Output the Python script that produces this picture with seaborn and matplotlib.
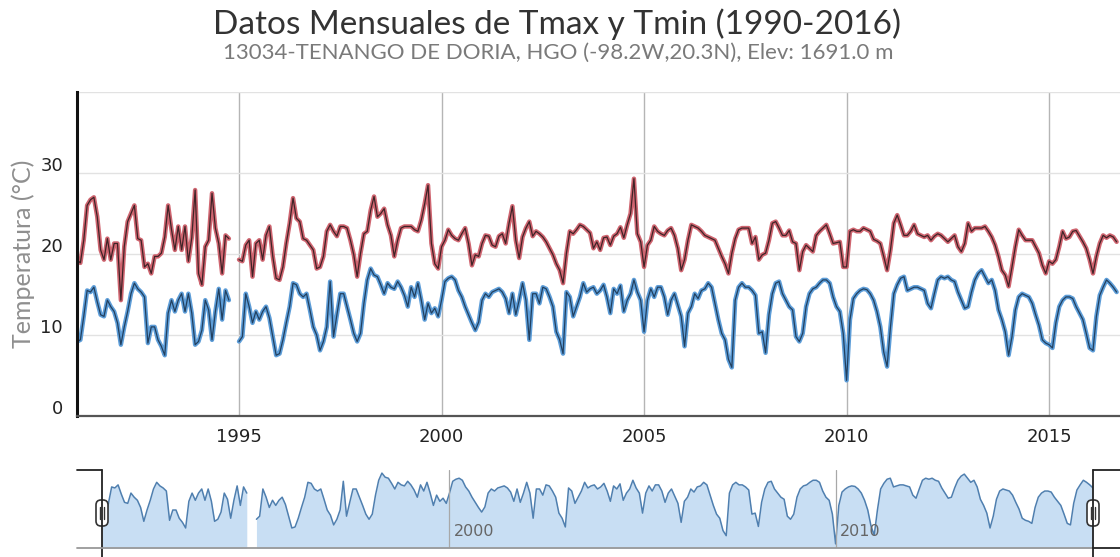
import numpy as np
import pandas as pd
import matplotlib
matplotlib.use("Agg")
import matplotlib.pyplot as plt
import matplotlib.transforms as mtransforms
from matplotlib.patches import FancyBboxPatch
from matplotlib.lines import Line2D
import seaborn as sns

# ---------------- data ----------------
title = "Datos Mensuales de Tmax y Tmin (1990-2016)"
subtitle = "13034-TENANGO DE DORIA, HGO (-98.2W,20.3N), Elev: 1691.0 m"
y_label = "Temperatura (°C)"
start_year = 1991
x_ticks = [1995, 2000, 2005, 2010, 2015]
y_ticks = [0, 10, 20, 30, 40]
y_tick_labels = ["0", "10", "20", "30", ""]
nav_ticks = [2000, 2010]
nan = float("nan")

# monthly Tmax, Jan 1991 .. Sep 2016 (one row per year)
tmax = [
    19.3, 18.9, 21.7, 26.0, 26.7, 27.0, 24.6, 20.5, 19.3, 21.9, 19.3, 21.3,
    21.3, 14.3, 20.9, 24.0, 25.0, 26.0, 21.9, 21.7, 18.4, 18.8, 17.6, 19.7,
    19.7, 20.1, 22.1, 26.0, 23.0, 20.5, 23.4, 20.5, 23.4, 19.1, 22.0, 27.9,
    17.6, 16.2, 20.9, 21.7, 27.5, 23.2, 21.3, 17.6, 22.3, 21.9, nan, nan,
    19.3, 19.1, 21.1, 21.7, 17.2, 21.3, 21.7, 19.3, 22.3, 23.4, 19.7, 17.0,
    16.8, 18.4, 21.3, 23.8, 26.9, 24.4, 24.0, 21.9, 21.7, 21.1, 20.5, 18.2,
    18.4, 19.7, 22.8, 23.6, 22.8, 22.2, 23.4, 23.4, 23.2, 21.7, 19.9, 17.2,
    20.1, 22.5, 22.8, 25.4, 27.1, 24.6, 25.0, 25.6, 23.6, 22.3, 19.7, 21.7,
    23.2, 23.4, 23.4, 23.4, 23.0, 22.8, 24.2, 26.2, 28.5, 21.3, 18.8, 18.2,
    20.9, 21.7, 23.0, 22.3, 21.9, 21.7, 22.5, 23.2, 21.3, 18.6, 19.9, 19.7,
    21.3, 22.3, 22.2, 21.1, 20.9, 22.2, 22.5, 21.3, 23.8, 25.9, 21.7, 19.5,
    22.1, 23.2, 24.0, 22.2, 22.8, 22.5, 22.1, 21.5, 20.7, 19.9, 18.8, 18.0,
    16.4, 20.1, 22.8, 22.5, 23.0, 23.6, 23.4, 23.0, 22.6, 20.7, 21.5, 20.5,
    22.0, 22.1, 21.1, 22.2, 22.5, 23.3, 22.0, 23.6, 25.0, 29.3, 22.5, 21.5,
    18.4, 21.1, 21.7, 23.4, 22.8, 22.5, 22.3, 22.9, 23.2, 22.3, 20.7, 18.0,
    19.3, 21.7, 23.6, 23.4, 23.2, 22.8, 22.3, 22.1, 21.9, 21.7, 20.7, 19.7,
    18.8, 17.6, 20.1, 21.9, 23.0, 23.2, 23.2, 23.2, 21.3, 22.1, 19.3, 19.9,
    20.1, 21.7, 23.8, 24.0, 23.2, 22.3, 22.3, 22.9, 21.5, 21.3, 18.0, 20.3,
    21.1, 20.7, 20.3, 22.3, 22.8, 23.2, 23.6, 22.5, 21.3, 21.4, 21.5, 18.4,
    18.4, 22.8, 23.0, 22.8, 22.8, 23.2, 23.0, 22.8, 21.8, 21.6, 21.3, 19.7,
    18.0, 20.5, 23.8, 24.8, 23.6, 22.3, 22.3, 22.8, 23.6, 22.5, 22.3, 22.1,
    22.3, 21.7, 22.2, 22.5, 22.3, 21.9, 21.5, 21.9, 22.3, 20.9, 20.3, 21.3,
    23.8, 22.8, 23.2, 23.2, 23.2, 23.4, 22.8, 22.1, 21.1, 19.7, 18.0, 17.4,
    16.0, 18.4, 20.9, 23.0, 22.3, 21.7, 21.7, 21.7, 20.9, 20.1, 18.6, 17.6,
    19.1, 18.8, 19.3, 20.9, 22.8, 21.9, 22.1, 22.8, 22.9, 22.2, 21.5, 20.7,
    19.3, 17.6, 19.7, 21.3, 22.3, 22.0, 22.3, 22.1, 21.5,
]

# monthly Tmin, Jan 1991 .. Sep 2016
tmin = [
    9.2, 9.4, 12.3, 15.5, 15.3, 15.9, 14.1, 12.5, 12.3, 14.3, 13.5, 12.9,
    11.5, 8.8, 11.0, 12.9, 15.1, 16.4, 15.7, 15.3, 14.7, 9.0, 11.0, 11.0,
    9.4, 8.6, 7.5, 12.7, 14.3, 12.9, 14.3, 15.1, 12.9, 15.1, 12.7, 8.8,
    9.2, 10.6, 14.3, 13.1, 9.4, 12.9, 15.7, 11.9, 15.5, 14.3, nan, nan,
    9.2, 9.8, 15.1, 13.5, 11.5, 12.9, 11.9, 12.9, 13.5, 12.1, 9.8, 7.5,
    7.7, 9.4, 11.5, 13.5, 16.4, 16.2, 15.1, 14.7, 15.1, 13.1, 11.0, 10.0,
    8.1, 9.2, 11.0, 16.6, 9.8, 12.5, 15.1, 15.1, 13.5, 11.9, 10.2, 9.2,
    10.2, 13.9, 16.8, 18.2, 17.4, 17.2, 16.2, 15.1, 16.4, 15.9, 15.7, 16.6,
    15.9, 14.9, 13.5, 15.9, 14.7, 16.4, 14.3, 11.9, 13.9, 12.7, 13.3, 12.3,
    14.3, 16.6, 17.0, 17.2, 16.8, 15.5, 14.7, 13.5, 12.5, 11.5, 10.6, 11.6,
    14.3, 15.1, 14.7, 15.3, 15.5, 15.7, 15.3, 14.5, 12.7, 15.1, 12.5, 14.3,
    16.4, 14.3, 9.4, 15.1, 15.1, 13.9, 15.9, 15.7, 14.7, 13.5, 10.4, 9.4,
    7.7, 15.3, 14.7, 12.3, 13.5, 14.7, 16.4, 15.3, 15.7, 15.9, 15.1, 15.5,
    16.2, 14.7, 12.7, 15.7, 15.1, 16.1, 12.9, 14.3, 15.1, 16.8, 15.3, 14.3,
    10.4, 14.3, 15.7, 14.7, 15.9, 15.9, 14.7, 12.5, 14.3, 15.1, 13.7, 12.3,
    8.6, 12.7, 13.5, 15.1, 14.5, 15.5, 15.7, 16.4, 15.9, 13.9, 11.9, 10.2,
    9.4, 7.0, 6.0, 14.3, 15.9, 16.4, 15.9, 15.9, 15.5, 14.9, 10.2, 10.4,
    7.8, 12.5, 15.1, 16.4, 16.6, 15.1, 14.3, 13.5, 13.1, 9.8, 9.2, 10.2,
    13.5, 15.1, 15.7, 15.9, 16.4, 16.8, 16.8, 16.4, 14.7, 13.5, 12.9, 10.2,
    4.4, 11.9, 14.5, 15.1, 15.5, 15.7, 15.6, 15.1, 14.3, 12.9, 11.0, 7.9,
    6.1, 11.0, 15.1, 16.2, 17.0, 17.2, 15.5, 15.7, 15.9, 15.9, 15.7, 15.5,
    13.9, 13.3, 15.1, 16.8, 17.2, 17.0, 17.2, 16.8, 16.6, 15.3, 14.3, 13.3,
    13.5, 15.3, 16.8, 17.6, 18.0, 17.2, 16.4, 16.8, 15.5, 13.1, 11.9, 10.4,
    7.5, 9.8, 13.1, 14.7, 15.1, 14.9, 14.7, 13.9, 12.5, 11.2, 9.4, 9.0,
    8.8, 8.4, 11.5, 13.5, 14.3, 14.7, 14.7, 14.5, 13.5, 12.7, 11.9, 10.2,
    8.4, 8.1, 12.3, 14.9, 15.9, 16.8, 16.4, 15.9, 15.3,
]

# ---------------- frame ----------------
n = len(tmax)
t = start_year + np.arange(n) / 12.0
seg = np.cumsum(np.isnan(np.array(tmax, dtype=float)))
df = pd.DataFrame({"t": t, "tmax": tmax, "tmin": tmin, "seg": seg}).dropna()

sns.set_style("white")
plt.rcParams["font.family"] = ["DejaVu Sans"]

W, H = 1120, 557
fig = plt.figure(figsize=(W / 100, H / 100), dpi=100)


def fx(x):
    return x / W


def fy(y):
    return 1 - y / H


# main axes
ax = fig.add_axes([fx(77), fy(416), (W - 77) / W, (416 - 92) / H])

series_styles = [("tmax", "#cf6570", "#3f2327"), ("tmin", "#5d9dd8", "#22405f")]
for col, halo, core in series_styles:
    sns.lineplot(data=df, x="t", y=col, units="seg", estimator=None, color=halo,
                 lw=3.2, ax=ax, legend=False, sort=False)
    sns.lineplot(data=df, x="t", y=col, units="seg", estimator=None, color=core,
                 lw=0.9, ax=ax, legend=False, sort=False)

ax.set_xlim(1991.0, 2016.75)
ax.set_ylim(0, 40)
ax.set_xticks(x_ticks)
ax.set_xticklabels([str(v) for v in x_ticks])
ax.set_yticks(y_ticks)
ax.set_yticklabels(y_tick_labels)
ax.grid(axis="y", color="#e2e2e2", lw=1)
ax.grid(axis="x", color="#b5b5b5", lw=1)
ax.set_axisbelow(True)
for s in ["top", "right"]:
    ax.spines[s].set_visible(False)
ax.spines["left"].set_color("#111111")
ax.spines["left"].set_linewidth(2.2)
ax.spines["bottom"].set_color("#555555")
ax.spines["bottom"].set_linewidth(1.6)
ax.tick_params(axis="y", length=6.5, width=1.6, color="#111111", pad=3.5,
               labelsize=13, labelcolor="#222222")
ax.tick_params(axis="x", length=0, pad=9, labelsize=13, labelcolor="#222222")
offset = mtransforms.ScaledTranslation(0, 9 / 100, fig.dpi_scale_trans)
for lbl in ax.get_yticklabels():
    lbl.set_transform(lbl.get_transform() + offset)
ax.set_xlabel("")
ax.set_ylabel(y_label, color="#8f8f8f", fontsize=18, family=["Lato", "DejaVu Sans"])
ax.yaxis.set_label_coords((35 - 77) / (W - 77), 0.5)

# titles
fig.text(fx(557), fy(24), title, ha="center", va="center", fontsize=24,
         color="#333333", family=["Lato", "DejaVu Sans"])
fig.text(fx(558), fy(53), subtitle, ha="center", va="center", fontsize=16,
         color="#7a7a7a", family=["Lato", "DejaVu Sans"])

# ---------------- navigator ----------------
nav = fig.add_axes([fx(102), fy(548), (1093 - 102) / W, (548 - 470) / H])
for _, g in df.groupby("seg"):
    nav.fill_between(g["t"], 0, g["tmin"], color="#c8def3", lw=0)
sns.lineplot(data=df, x="t", y="tmin", units="seg", estimator=None, color="#4f7faf",
             lw=1.1, ax=nav, legend=False, sort=False)
nav.set_xlim(t[0], t[-1])
nav.set_ylim(3.6, 18.8)
nav.set_axis_off()
for v in nav_ticks:
    nav.axvline(v, color="#a8a8a8", lw=0.9)
    nav.text(v + 0.12, 5.4, str(v), fontsize=11.5, color="#666666", va="bottom", ha="left")

# navigator outline
lines = [
    [(77, 470), (102, 470)],
    [(102, 470), (102, 557)],
    [(77, 548), (1093, 548)],
    [(1093, 470), (1120, 470)],
    [(1093, 470), (1093, 557)],
    [(1093, 548), (1120, 548)],
]
for (x0, y0), (x1, y1) in lines:
    col = "#999999" if (y0 == 548 and y1 == 548 and x1 == 1093) else "#222222"
    fig.add_artist(Line2D([fx(x0), fx(x1)], [fy(y0), fy(y1)], color=col, lw=1.3,
                          transform=fig.transFigure))

# handles
for hx in (102, 1093):
    box = FancyBboxPatch(((hx - 6) / 100, (H - 513 - 13) / 100), 12 / 100, 26 / 100,
                         boxstyle="round,pad=0,rounding_size=0.05",
                         fc="white", ec="#333333", lw=1.2,
                         transform=fig.dpi_scale_trans)
    fig.add_artist(box)
    for dx in (-1.6, 1.6):
        fig.add_artist(Line2D([(hx + dx) / 100] * 2, [(H - 519) / 100, (H - 507) / 100],
                              color="#333333", lw=1.0, transform=fig.dpi_scale_trans))

fig.savefig("out.png", dpi=100)
